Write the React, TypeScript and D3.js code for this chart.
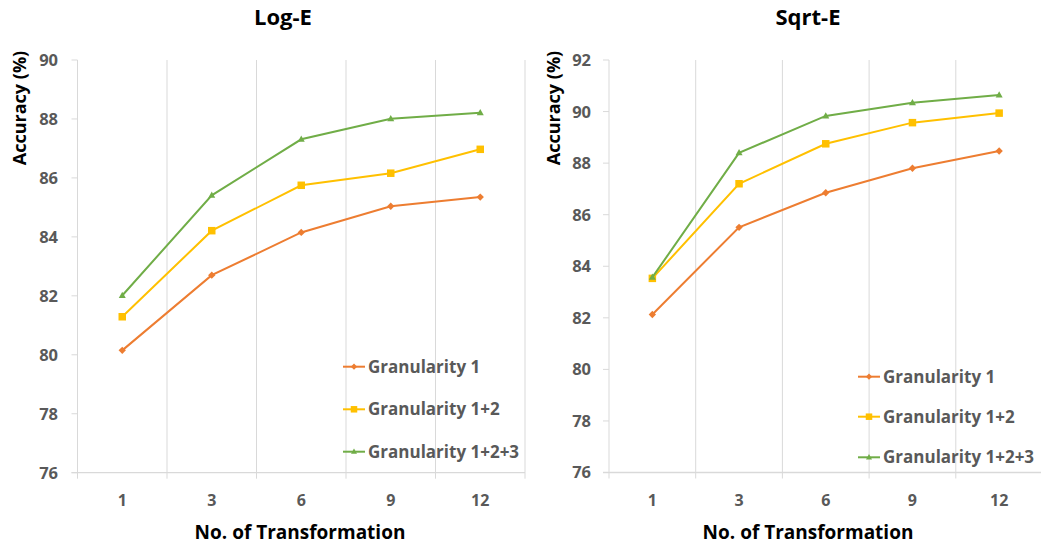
import React from "react";
import * as d3 from "d3";

const categories = ["1", "3", "6", "9", "12"];
const seriesNames = ["Granularity 1", "Granularity 1+2", "Granularity 1+2+3"];
const colors = ["#ED7D31", "#FFC000", "#70AD47"];
const markers = ["diamond", "square", "triangle"];

const logE_g1 = [80.15, 82.7, 84.15, 85.04, 85.35];
const logE_g12 = [81.29, 84.21, 85.75, 86.16, 86.97];
const logE_g123 = [82.01, 85.41, 87.31, 88.01, 88.21];

const sqrtE_g1 = [82.13, 85.51, 86.85, 87.8, 88.47];
const sqrtE_g12 = [83.53, 87.2, 88.75, 89.57, 89.94];
const sqrtE_g123 = [83.57, 88.4, 89.83, 90.34, 90.64];

const logE_ticks = [76, 78, 80, 82, 84, 86, 88, 90];
const sqrtE_ticks = [76, 78, 80, 82, 84, 86, 88, 90, 92];

const FONT = "'Open Sans', 'DejaVu Sans', sans-serif";
const GRID = "#D9D9D9";
const LABEL = "#595959";

function Marker({ type, x, y, color, s }: { type: string; x: number; y: number; color: string; s: number }) {
  if (type === "diamond") {
    const p = d3.symbol().type(d3.symbolDiamond2).size(s * s * 0.7)();
    return <path d={p || ""} transform={`translate(${x},${y})`} fill={color} />;
  }
  if (type === "square") {
    return <rect x={x - s / 2} y={y - s / 2} width={s} height={s} fill={color} />;
  }
  const h = s * 0.9;
  return (
    <path
      d={`M${x},${y - h * 0.6} L${x + s / 2},${y + h * 0.4} L${x - s / 2},${y + h * 0.4} Z`}
      fill={color}
    />
  );
}

type PanelProps = {
  title: string;
  titleX: number;
  series: number[][];
  ticks: number[];
  x0: number;
  x1: number;
  yTop: number;
  yBottom: number;
  tickLabelX: number;
  yTitleX: number;
  xTitleX: number;
  legendX: number;
  legendYs: number[];
};

function Panel(p: PanelProps) {
  const x = d3.scaleBand<string>().domain(categories).range([p.x0, p.x1]).padding(0);
  const yMin = p.ticks[0];
  const yMax = p.ticks[p.ticks.length - 1];
  const y = d3.scaleLinear().domain([yMin, yMax]).range([p.yBottom, p.yTop]);
  const bw = x.bandwidth();
  const cx = (c: string) => (x(c) as number) + bw / 2;
  const line = d3
    .line<number>()
    .x((_, i) => cx(categories[i]))
    .y((v) => y(v));
  const boundaries = categories.map((c) => x(c) as number).concat([p.x1]);
  return (
    <g>
      <text x={p.titleX} y={25} textAnchor="middle" fontFamily={FONT} fontWeight={700} fontSize={22} fill="#000">
        {p.title}
      </text>
      {boundaries.map((b, i) => (
        <line key={"g" + i} x1={b} x2={b} y1={p.yTop} y2={p.yBottom + 6} stroke={GRID} strokeWidth={1} />
      ))}
      {p.ticks.map((t) => (
        <g key={"t" + t}>
          <line x1={p.x0 - 6} x2={p.x0} y1={y(t)} y2={y(t)} stroke={GRID} strokeWidth={1} />
          <text
            x={p.tickLabelX}
            y={y(t)}
            dy="0.36em"
            textAnchor="end"
            fontFamily={FONT}
            fontWeight={700}
            fontSize={16.5}
            fill={LABEL}
          >
            {t}
          </text>
        </g>
      ))}
      <line x1={p.x0 - 6} x2={p.x1} y1={p.yBottom} y2={p.yBottom} stroke={GRID} strokeWidth={1.3} />
      {categories.map((c) => (
        <text
          key={"x" + c}
          x={cx(c)}
          y={500.5}
          dy="0.36em"
          textAnchor="middle"
          fontFamily={FONT}
          fontWeight={700}
          fontSize={16}
          fill={LABEL}
        >
          {c}
        </text>
      ))}
      <text x={p.xTitleX} y={532} dy="0.36em" textAnchor="middle" fontFamily={FONT} fontWeight={700} fontSize={19} fill="#000">
        No. of Transformation
      </text>
      <text
        transform={`translate(${p.yTitleX},108) rotate(-90)`}
        dy="0.36em"
        textAnchor="middle"
        fontFamily={FONT}
        fontWeight={700}
        fontSize={18}
        fill="#000"
      >
        Accuracy (%)
      </text>
      {p.series.map((vals, si) => (
        <g key={"s" + si}>
          <path d={line(vals) || ""} fill="none" stroke={colors[si]} strokeWidth={2} />
          {vals.map((v, i) => (
            <Marker key={i} type={markers[si]} x={cx(categories[i])} y={y(v)} color={colors[si]} s={si === 1 ? 7.5 : 7} />
          ))}
        </g>
      ))}
      {seriesNames.map((n, si) => (
        <g key={"l" + si}>
          <line x1={p.legendX} x2={p.legendX + 22} y1={p.legendYs[si]} y2={p.legendYs[si]} stroke={colors[si]} strokeWidth={2} />
          <Marker type={markers[si]} x={p.legendX + 11} y={p.legendYs[si]} color={colors[si]} s={si === 1 ? 6.5 : 6} />
          <text
            x={p.legendX + 25}
            y={p.legendYs[si]}
            dy="0.36em"
            fontFamily={FONT}
            fontWeight={700}
            fontSize={17}
            fill={LABEL}
          >
            {n}
          </text>
        </g>
      ))}
    </g>
  );
}

export default function App() {
  return (
    <svg width={1041} height={548} style={{ position: "absolute", left: 0, top: 0, background: "#fff" }}>
      <rect width={1041} height={548} fill="#fff" />
      <Panel
        title="Log-E"
        titleX={283}
        series={[logE_g1, logE_g12, logE_g123]}
        ticks={logE_ticks}
        x0={77.5}
        x1={525}
        yTop={60}
        yBottom={472.7}
        tickLabelX={58}
        yTitleX={19.5}
        xTitleX={300}
        legendX={343}
        legendYs={[366.7, 409.3, 451.7]}
      />
      <Panel
        title="Sqrt-E"
        titleX={808}
        series={[sqrtE_g1, sqrtE_g12, sqrtE_g123]}
        ticks={sqrtE_ticks}
        x0={609}
        x1={1042.5}
        yTop={60}
        yBottom={472.5}
        tickLabelX={591}
        yTitleX={554}
        xTitleX={808}
        legendX={858}
        legendYs={[376.7, 416.7, 457.3]}
      />
    </svg>
  );
}
